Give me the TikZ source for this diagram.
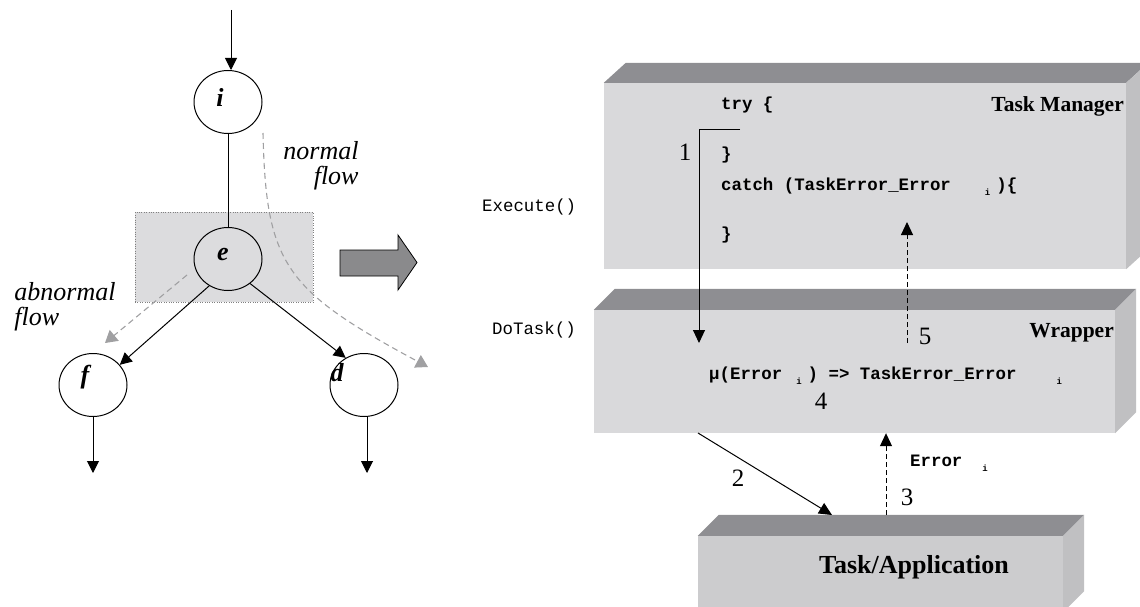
\documentclass[tikz,border=0pt]{standalone}
\usepackage{fontspec}
\setmainfont{Liberation Serif}
\setmonofont{Liberation Mono}
\usepackage{tikz}
\usetikzlibrary{calc, positioning, arrows.meta, shapes.geometric}

\definecolor{frontgray}{HTML}{D9D9DB}
\definecolor{appgray}{HTML}{CCCCCE}
\definecolor{topgray}{HTML}{8E8E92}
\definecolor{sidegray}{HTML}{C0C0C2}
\definecolor{arrowgray}{HTML}{8A8A8C}
\definecolor{flowgray}{HTML}{A0A0A2}
\definecolor{focusgray}{HTML}{DCDCDE}

\newcommand{\subidx}[1]{\raisebox{-5pt}{\fontsize{9}{10}\selectfont #1}}

\tikzset{
    state/.style={ellipse, draw, line width=1pt, minimum width=68pt, minimum height=63pt, inner sep=0pt},
    statelabel/.style={font=\fontsize{26}{28}\selectfont\bfseries\itshape, inner sep=0pt},
    flowlabel/.style={font=\fontsize{26}{25}\selectfont\itshape, inner sep=0pt},
    flow/.style={line width=1pt, -{Triangle[length=12pt,width=12pt]}},
    grayflow/.style={draw=flowgray, line width=1.1pt, dash pattern=on 6pt off 4pt, -{Triangle[length=12pt,width=14pt,fill=flowgray]}},
    errflow/.style={line width=1pt, dash pattern=on 5pt off 3pt, -{Triangle[length=13pt,width=12pt]}},
    slab/.style={rectangle, fill=frontgray, inner sep=0pt},
    boxtitle/.style={font=\fontsize{21.5}{24}\selectfont\bfseries, inner sep=0pt},
    codetext/.style={font=\fontsize{17.4}{20}\selectfont\ttfamily\bfseries, inner sep=0pt, anchor=west},
    calllabel/.style={font=\fontsize{17.4}{20}\selectfont\ttfamily, inner sep=0pt, anchor=west},
    stepnum/.style={font=\fontsize{25}{27}\selectfont, inner sep=0pt}
}

\begin{document}
\begin{tikzpicture}[x=1pt,y=-1pt]

    \useasboundingbox (0,0) rectangle (1140,607);

    % shaded area round e
    \node[rectangle, fill=focusgray, draw=gray, dotted, minimum width=178pt, minimum height=90pt] (focus) at (224,257) {};

    % states
    \node[state] (i) at (228,102) {};
    \node[state] (e) at (228,259) {};
    \node[state] (f) at (93,385) {};
    \node[state] (d) at (364,385) {};

    \node[statelabel] (ilab) at (220,97) {i};
    \node[statelabel] (elab) at (223,254) {e};
    \node[statelabel] (flab) at (85,377) {f};
    \node[statelabel] (dlab) at (337,373) {d};

    % solid edges
    \coordinate (in) at (231,10);
    \coordinate (fout) at (93,473);
    \coordinate (dout) at (367,473);
    \draw[flow] (in) -- (in |- i.north);
    \draw[line width=1pt] (i) -- (e);
    \draw[flow] (e.-125) -- (f.37);
    \draw[flow] (e.-48) -- (d.124);
    \draw[flow] (f.south) -- (fout);
    \draw[flow] (dout |- d.south) -- (dout);

    % dashed flows
    \coordinate (ab1) at (187,275);
    \coordinate (ab2) at (105,343);
    \coordinate (nf1) at (263,133);
    \coordinate (nf2) at (428,367);
    \draw[grayflow] (ab1) -- (ab2);
    \draw[grayflow] (nf1) .. controls (266,265) and (285,290) .. (nf2);

    \node[flowlabel, align=right] (normal) at (321,166) {normal\\flow};
    \node[flowlabel, align=left] (abnormal) at (65,307) {abnormal\\flow};

    % big arrow
    \filldraw[fill=arrowgray, draw=black, line width=0.8pt] (340,250) -- (398,250) -- (398,235) -- (417,262.5)
        -- (398,290) -- (398,276) -- (340,276) -- cycle;

    % task manager box
    \node[slab, minimum width=522pt, minimum height=186pt] (tm) at (865,176) {};
    \fill[topgray] (tm.north west) -- ([shift={(22,-20)}]tm.north west) -- ([shift={(22,-20)}]tm.north east) -- (tm.north east) -- cycle;
    \fill[sidegray] (tm.north east) -- ([shift={(22,-20)}]tm.north east) -- ([shift={(22,-20)}]tm.south east) -- (tm.south east) -- cycle;

    % wrapper box
    \node[slab, minimum width=521pt, minimum height=123pt] (wr) at (854.5,371.5) {};
    \fill[topgray] (wr.north west) -- ([shift={(21,-21)}]wr.north west) -- ([shift={(21,-21)}]wr.north east) -- (wr.north east) -- cycle;
    \fill[sidegray] (wr.north east) -- ([shift={(21,-21)}]wr.north east) -- ([shift={(21,-21)}]wr.south east) -- (wr.south east) -- cycle;

    % application box
    \node[slab, fill=appgray, minimum width=365pt, minimum height=76pt] (app) at (880.5,574) {};
    \fill[topgray] (app.north west) -- ([shift={(21,-21)}]app.north west) -- ([shift={(21,-21)}]app.north east) -- (app.north east) -- cycle;
    \fill[sidegray] (app.north east) -- ([shift={(21,-21)}]app.north east) -- ([shift={(21,-21)}]app.south east) -- (app.south east) -- cycle;

    % box titles
    \node[boxtitle, anchor=east] (tmtitle) at (1124,106) {Task Manager};
    \node[boxtitle, anchor=east] (wrtitle) at (1114,333) {Wrapper};
    \node[boxtitle, font=\fontsize{26}{28}\selectfont\bfseries] (apptitle) at (914,567) {Task/Application};

    % code
    \node[codetext] (try) at (721,105) {try \{};
    \node[codetext] (tryend) at (721,155) {\}};
    \node[codetext] (catch) at (721,187) {catch (TaskError\_Error\hspace{34pt}\subidx{i}\hspace{6pt})\{};
    \node[codetext] (catchend) at (721,235) {\}};
    \node[codetext] (map) at (709,376) {µ(Error\hspace{14pt}\subidx{i}\hspace{6pt}) => TaskError\_Error\hspace{40pt}\subidx{i}};
    \node[codetext] (err) at (910,463) {Error\hspace{20pt}\subidx{i}};

    \node[calllabel] (exec) at (482,207) {Execute()};
    \node[calllabel] (dotask) at (492,330) {DoTask()};

    % numbered steps
    \coordinate (c1) at (740,130);
    \coordinate (c1end) at (699,343);
    \coordinate (c5) at (907,343);
    \coordinate (c5end) at (907,222);
    \coordinate (c2) at (698,433);
    \coordinate (c2end) at (832,515);
    \coordinate (c3) at (886,515);
    \draw[flow, -{Triangle[length=13pt,width=12pt]}] (c1) -| (c1end);
    \draw[errflow] (c5) -- (c5end);
    \draw[flow, -{Triangle[length=13pt,width=12pt]}] (c2) -- (c2end);
    \draw[errflow] (c3) -- (c3 |- wr.south);

    \node[stepnum] (s1) at (685,152) {1};
    \node[stepnum] (s2) at (738,478) {2};
    \node[stepnum] (s3) at (907,497) {3};
    \node[stepnum] (s4) at (821,401) {4};
    \node[stepnum] (s5) at (925,336) {5};

\end{tikzpicture}
\end{document}
